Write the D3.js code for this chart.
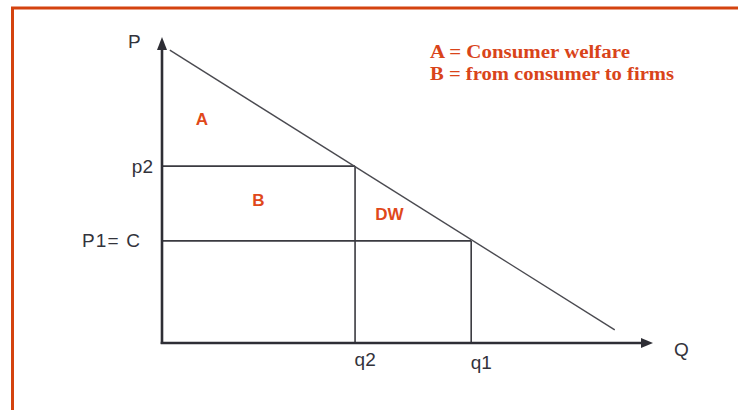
<!DOCTYPE html>
<html>
<head>
<meta charset="utf-8">
<script src="https://cdn.jsdelivr.net/npm/d3@7"></script>
<style>
  body { margin: 0; background: #fff; }
</style>
</head>
<body>
<div id="chart"></div>
<script>
// Values (data units: Q and P both 0..10)
const priceLabels = ['p2', 'P1= C'];
const priceValues = [5.8, 3.35];
const quantityLabels = ['q2', 'q1'];
const quantityValues = [3.94, 6.31];
const demandQ = [0.16, 9.24];
const demandP = [9.6, 0.43];
const areaLabels = ['A', 'B', 'DW'];
const areaQ = [0.69, 1.84, 4.35];
const areaP = [7.15, 4.5, 4.03];
const legendLines = ['A = Consumer welfare', 'B = from consumer to firms'];

const width = 738, height = 410;
const axisColor = '#2e2e35';
const accent = '#e0481a';
const labelFont = 'Liberation Sans, Arial, sans-serif';

const svg = d3.select('#chart')
    .append('svg')
    .attr('width', width)
    .attr('height', height);

// Orange frame (only left and top edges are visible)
svg.append('rect')
    .attr('x', 12.5)
    .attr('y', 8)
    .attr('width', 800)
    .attr('height', 500)
    .attr('fill', 'none')
    .attr('stroke', '#d4430f')
    .attr('stroke-width', 3);

// Scales
const x = d3.scaleLinear().domain([0, 10]).range([162, 652]);
const y = d3.scaleLinear().domain([0, 10]).range([343, 38]);

// Guide lines from the axes to the demand curve
priceValues.forEach((p, i) => {
    const q = quantityValues[i];
    svg.append('line')
        .attr('x1', x(0)).attr('x2', x(q))
        .attr('y1', y(p)).attr('y2', y(p))
        .attr('stroke', '#3a3a40')
        .attr('stroke-width', 1.6);
    svg.append('line')
        .attr('x1', x(q)).attr('x2', x(q))
        .attr('y1', y(p)).attr('y2', y(0))
        .attr('stroke', '#3a3a40')
        .attr('stroke-width', 1.6);
});

// Demand curve
svg.append('line')
    .attr('x1', x(demandQ[0])).attr('y1', y(demandP[0]))
    .attr('x2', x(demandQ[1])).attr('y2', y(demandP[1]))
    .attr('stroke', '#4a4a50')
    .attr('stroke-width', 1.4);

// X axis (labels only, the line is drawn with an arrow below)
const xAxis = svg.append('g')
    .attr('transform', `translate(0, ${y(0)})`)
    .call(d3.axisBottom(x)
        .tickValues(quantityValues)
        .tickFormat((d, i) => quantityLabels[i])
        .tickSize(0)
        .tickPadding(10));
xAxis.select('.domain').remove();
xAxis.selectAll('text')
    .attr('text-anchor', 'start')
    .attr('dx', -1)
    .attr('dy', (d, i) => i === 0 ? '0.68em' : '0.86em')
    .style('font-family', labelFont)
    .style('font-size', '19px')
    .attr('fill', '#33333b');

// Y axis
const yAxis = svg.append('g')
    .attr('transform', `translate(${x(0)}, 0)`)
    .call(d3.axisLeft(y)
        .tickValues(priceValues)
        .tickFormat((d, i) => priceLabels[i])
        .tickSize(0)
        .tickPadding(9));
yAxis.select('.domain').remove();
yAxis.selectAll('text')
    .attr('dx', (d, i) => i === 0 ? 0 : -13)
    .attr('textLength', (d, i) => i === 0 ? null : 58)
    .style('font-family', labelFont)
    .style('font-size', '19px')
    .attr('fill', '#33333b');

// Axis lines with arrowheads
svg.append('path')
    .attr('d', `M${x(0)},${y(0) + 1}V${y(10) + 8}`)
    .attr('stroke', axisColor)
    .attr('stroke-width', 2.6)
    .attr('fill', 'none');
svg.append('path')
    .attr('d', `M${x(0) - 5},${y(10) + 12}L${x(0)},${y(10) - 1}L${x(0) + 5},${y(10) + 12}Z`)
    .attr('fill', axisColor);
svg.append('path')
    .attr('d', `M${x(0) - 1.3},${y(0)}H${x(10) - 8}`)
    .attr('stroke', axisColor)
    .attr('stroke-width', 2.6)
    .attr('fill', 'none');
svg.append('path')
    .attr('d', `M${x(10) - 11},${y(0) - 5}L${x(10) + 1},${y(0)}L${x(10) - 11},${y(0) + 5}Z`)
    .attr('fill', axisColor);

// Axis names
svg.append('text')
    .attr('x', 128).attr('y', 48)
    .style('font-family', labelFont)
    .style('font-size', '19px')
    .attr('fill', '#33333b')
    .text('P');
svg.append('text')
    .attr('x', 674).attr('y', 356)
    .style('font-family', labelFont)
    .style('font-size', '19px')
    .attr('fill', '#33333b')
    .text('Q');

// Area labels
areaLabels.forEach((label, i) => {
    svg.append('text')
        .attr('x', x(areaQ[i]))
        .attr('y', y(areaP[i]))
        .style('font-family', labelFont)
        .style('font-size', '17px')
        .style('font-weight', 'bold')
        .attr('fill', accent)
        .text(label);
});

// Legend text
legendLines.forEach((line, i) => {
    svg.append('text')
        .attr('x', 430)
        .attr('y', 58 + i * 22)
        .attr('textLength', i === 0 ? 200 : 244)
        .attr('lengthAdjust', 'spacingAndGlyphs')
        .style('font-family', 'Liberation Serif, serif')
        .style('font-size', '18px')
        .style('font-weight', 'bold')
        .attr('fill', '#d9441a')
        .text(line);
});
</script>
</body>
</html>
